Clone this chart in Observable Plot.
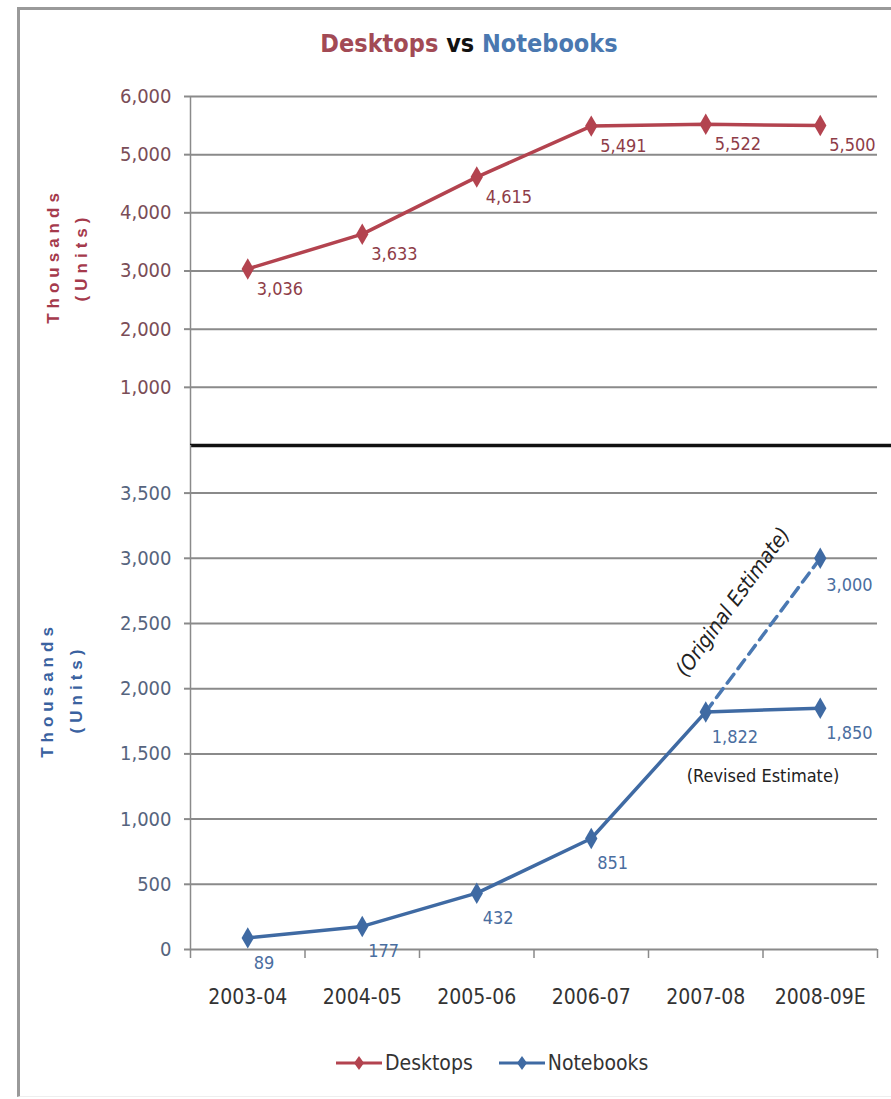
<!DOCTYPE html>
<html>
<head>
<meta charset="utf-8">
<script src="https://cdn.jsdelivr.net/npm/d3@7"></script>
<script src="https://cdn.jsdelivr.net/npm/@observablehq/plot@0.6"></script>
<style>
  html, body { margin: 0; padding: 0; background: #fff; }
  #wrap { position: relative; width: 891px; height: 1099px; overflow: hidden; background: #fff;
          font-family: "Liberation Sans Narrow", "DejaVu Sans Condensed", "Liberation Sans", sans-serif; }
  #frame { position: absolute; left: 17px; top: 7px; width: 900px; height: 1086px;
           border-left: 3px solid #9a9a9a; border-top: 3px solid #9a9a9a; border-bottom: 1px solid #eeeeee; }
  #title { position: absolute; top: 29px; left: 0; width: 938px; text-align: center; font-size: 25px; font-weight: bold; }
  .plot { position: absolute; left: 0; overflow: visible; }
  .ytitle { position: absolute; transform: translate(-50%, -50%) rotate(-90deg); font-family: "Liberation Sans", sans-serif;
            font-weight: bold; font-size: 17px; letter-spacing: 5px; white-space: nowrap; }
  #legend { position: absolute; top: 1051px; left: 336px; display: flex; align-items: center; font-size: 21px; color: #333; }
  #legend .item { display: flex; align-items: center; margin-right: 26px; }
  #legend svg { margin-right: 3px; }
</style>
</head>
<body>
<div id="wrap">
  <div id="frame"></div>
  <div id="title"><span style="color:#a24a55">Desktops</span> <span style="color:#111">vs</span> <span style="color:#4a78b0">Notebooks</span></div>
  <div class="ytitle" style="left:54px; top:256px; color:#a53a4c;">Thousands</div>
  <div class="ytitle" style="left:82px; top:257px; color:#a53a4c;">(Units)</div>
  <div class="ytitle" style="left:48px; top:690px; color:#3a62a0;">Thousands</div>
  <div class="ytitle" style="left:77px; top:689px; color:#3a62a0;">(Units)</div>
  <div id="top" class="plot" style="top:0px"></div>
  <div id="bottom" class="plot" style="top:445px"></div>
  <div id="legend"></div>
</div>
<script>
// ---- data ----
const categories = ["2003-04", "2004-05", "2005-06", "2006-07", "2007-08", "2008-09E"];
const desktops = [3036, 3633, 4615, 5491, 5522, 5500];
const notebooks = [89, 177, 432, 851, 1822, 1850];
const notebooksOriginal = [null, null, null, null, 1822, 3000];
const originalLabelValues = [null, null, null, null, null, 3000];
const desktopTicks = [1000, 2000, 3000, 4000, 5000, 6000];
const notebookTicks = [0, 500, 1000, 1500, 2000, 2500, 3000, 3500];
const annotationOriginal = "(Original Estimate)";
const annotationRevised = "(Revised Estimate)";

const fmt = d3.format(",");
const rows = (vals) => vals.map((v, i) => ({i, cat: categories[i], x: i + 0.5, v})).filter(d => d.v != null);
const deskRows = rows(desktops);
const noteRows = rows(notebooks);
const origRows = rows(notebooksOriginal);
const origLabelRows = rows(originalLabelValues);

const RED = "#b3434f", RED_TXT = "#8e3d48";
const BLUE = "#3f6aa3", BLUE_TXT = "#4a6e9f";
const GRID = "#8a8a8a";
const FONT = '"Liberation Sans Narrow", "DejaVu Sans Condensed", "Liberation Sans", sans-serif';

const W = 891, ML = 190, MR = 14;
const boundaries = d3.range(0, categories.length + 1);
const centers = categories.map((c, i) => i + 0.5);

// ---- top panel: Desktops ----
const topPlot = Plot.plot({
  width: W, height: 446, marginLeft: ML, marginRight: MR, marginTop: 96, marginBottom: 1,
  style: {fontFamily: FONT, overflow: "visible", background: "transparent"},
  x: {domain: [0, categories.length], axis: null},
  y: {domain: [0, 6000], axis: null},
  marks: [
    Plot.ruleY(desktopTicks, {stroke: GRID, strokeWidth: 2}),
    Plot.axisY({ticks: desktopTicks, tickFormat: fmt, tickSize: 6, tickPadding: 13, stroke: GRID, strokeWidth: 2,
                fill: "#7a4d57", fontSize: 20, label: null}),
    Plot.ruleX([0], {stroke: GRID, strokeWidth: 1.5}),
    Plot.ruleY([0], {x1: 0, x2: categories.length + 0.15, stroke: "#111", strokeWidth: 3.5}),
    Plot.line(deskRows, {x: "x", y: "v", stroke: RED, strokeWidth: 3.5}),
    Plot.dot(deskRows, {x: "x", y: "v", symbol: "diamond", r: 6.5, fill: RED, stroke: null}),
    Plot.text(deskRows, {x: "x", y: "v", text: d => fmt(d.v), textAnchor: "start", dx: 9, dy: 20,
                         fill: RED_TXT, fontSize: 18})
  ]
});
document.getElementById("top").append(topPlot);

// ---- bottom panel: Notebooks ----
const botPlot = Plot.plot({
  width: W, height: 654, marginLeft: ML, marginRight: MR, marginTop: 0, marginBottom: 150,
  style: {fontFamily: FONT, overflow: "visible", background: "transparent"},
  x: {domain: [0, categories.length], axis: null},
  y: {domain: [0, 3865], axis: null},
  marks: [
    Plot.ruleY(notebookTicks, {stroke: GRID, strokeWidth: 2}),
    Plot.axisY({ticks: notebookTicks, tickFormat: fmt, tickSize: 6, tickPadding: 13, stroke: GRID, strokeWidth: 2,
                fill: "#56647e", fontSize: 20, label: null}),
    Plot.ruleX([0], {stroke: GRID, strokeWidth: 1.5}),
    Plot.axisX({ticks: boundaries, tickFormat: () => "", tickSize: 9, stroke: GRID, strokeWidth: 1.5, label: null}),
    Plot.axisX({ticks: centers, tickFormat: d => categories[Math.round(d - 0.5)], tickSize: 0, tickPadding: 40,
                fill: "#333", fontSize: 21, label: null}),
    Plot.line(origRows, {x: "x", y: "v", stroke: "#4a78b2", strokeWidth: 3.5, strokeDasharray: "11,7"}),
    Plot.line(noteRows, {x: "x", y: "v", stroke: BLUE, strokeWidth: 3.5}),
    Plot.dot(noteRows, {x: "x", y: "v", symbol: "diamond", r: 6.5, fill: BLUE, stroke: null}),
    Plot.dot(origLabelRows, {x: "x", y: "v", symbol: "diamond", r: 6.5, fill: BLUE, stroke: null}),
    Plot.text(noteRows, {x: "x", y: "v", text: d => fmt(d.v), textAnchor: "start", dx: 6, dy: 25,
                         fill: BLUE_TXT, fontSize: 18}),
    Plot.text(origLabelRows, {x: "x", y: "v", text: d => fmt(d.v), textAnchor: "start", dx: 6, dy: 27,
                         fill: BLUE_TXT, fontSize: 18}),
    // annotation along the dashed segment (anchored at its midpoint)
    Plot.text([origRows], {x: d => d3.mean(d, r => r.x), y: d => d3.mean(d, r => r.v), text: () => annotationOriginal,
                           rotate: -54, dx: -30, dy: -33, fontSize: 21, fontStyle: "italic", fill: "#222"}),
    // annotation under the revised estimate segment
    Plot.text([noteRows.slice(-2)], {x: d => d3.mean(d, r => r.x), y: d => d3.mean(d, r => r.v), text: () => annotationRevised,
                           dy: 66, fontSize: 18, fill: "#222"})
  ]
});
document.getElementById("bottom").append(botPlot);

// ---- legend ----
const legend = document.getElementById("legend");
[["Desktops", RED], ["Notebooks", BLUE]].forEach(([name, color]) => {
  const item = document.createElement("div");
  item.className = "item";
  item.innerHTML = `<svg width="46" height="20"><line x1="0" y1="10" x2="46" y2="10" stroke="${color}" stroke-width="3"/>` +
    `<path d="M23,3 L28,10 L23,17 L18,10 Z" fill="${color}"/></svg><span>${name}</span>`;
  legend.append(item);
});
</script>
</body>
</html>
